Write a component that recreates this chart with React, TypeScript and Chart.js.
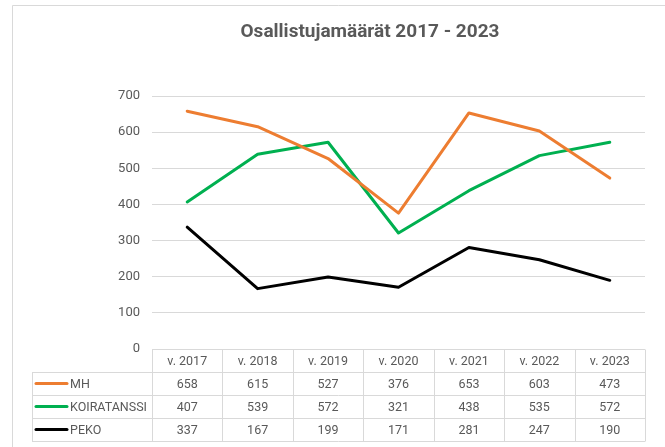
import React, { useEffect, useRef } from "react";
import { Chart, registerables } from "chart.js";

Chart.register(...registerables);

const categories = ["v. 2017", "v. 2018", "v. 2019", "v. 2020", "v. 2021", "v. 2022", "v. 2023"];
const mhValues = [658, 615, 527, 376, 653, 603, 473];
const koiratanssiValues = [407, 539, 572, 321, 438, 535, 572];
const pekoValues = [337, 167, 199, 171, 281, 247, 190];
const seriesNames = ["MH", "KOIRATANSSI", "PEKO"];
const seriesColors = ["#ED7D31", "#00B050", "#000000"];
const titleText = "Osallistujamäärät 2017 - 2023";

const FONT = "Roboto, 'Liberation Sans', sans-serif";
const TEXT_COLOR = "#595959";
const GRID_COLOR = "#D9D9D9";

const tablePlugin = {
  id: "excelTable",
  beforeDraw(chart: any) {
    const ctx = chart.ctx;
    ctx.save();
    ctx.fillStyle = "#FFFFFF";
    ctx.fillRect(0, 0, chart.width, chart.height);
    // frame
    ctx.strokeStyle = GRID_COLOR;
    ctx.lineWidth = 1;
    ctx.beginPath();
    ctx.moveTo(12.5, chart.height);
    ctx.lineTo(12.5, 5.5);
    ctx.lineTo(chart.width, 5.5);
    ctx.stroke();
    // title
    ctx.fillStyle = TEXT_COLOR;
    ctx.font = `bold 19px ${FONT}`;
    ctx.textAlign = "center";
    ctx.textBaseline = "middle";
    ctx.fillText(titleText, 370, 32);
    ctx.restore();
  },
  afterDraw(chart: any) {
    const ctx = chart.ctx;
    const x = chart.scales.x;
    const area = chart.chartArea;
    const n = categories.length;
    const colW = (area.right - area.left) / n;
    const top = area.bottom;
    const rowH = 23;
    const labelLeft = 32;
    const series = [mhValues, koiratanssiValues, pekoValues];
    ctx.save();
    ctx.strokeStyle = GRID_COLOR;
    ctx.lineWidth = 1;
    const px = (v: number) => Math.round(v) + 0.5;
    // horizontal lines
    ctx.beginPath();
    ctx.moveTo(area.left, px(top));
    ctx.lineTo(area.right, px(top));
    for (let r = 1; r <= series.length + 1; r++) {
      const y = px(top + r * rowH);
      ctx.moveTo(labelLeft, y);
      ctx.lineTo(area.right, y);
    }
    // vertical lines
    ctx.moveTo(px(labelLeft), px(top + rowH));
    ctx.lineTo(px(labelLeft), px(top + rowH * (series.length + 1)));
    for (let c = 0; c <= n; c++) {
      const xv = px(area.left + c * colW);
      ctx.moveTo(xv, px(top));
      ctx.lineTo(xv, px(top + rowH * (series.length + 1)));
    }
    ctx.stroke();

    ctx.fillStyle = TEXT_COLOR;
    ctx.font = `12.5px ${FONT}`;
    ctx.textAlign = "center";
    ctx.textBaseline = "middle";
    categories.forEach((c, i) => {
      ctx.fillText(c, x.getPixelForValue(i), top + rowH / 2 + 1);
    });
    series.forEach((vals, r) => {
      const cy = top + rowH * (r + 1) + rowH / 2 + 1;
      vals.forEach((v, i) => {
        ctx.fillText(String(v), x.getPixelForValue(i), cy);
      });
      // legend key
      ctx.strokeStyle = seriesColors[r];
      ctx.lineWidth = 3;
      ctx.lineCap = "round";
      ctx.beginPath();
      ctx.moveTo(36, cy - 1);
      ctx.lineTo(67, cy - 1);
      ctx.stroke();
      ctx.textAlign = "left";
      ctx.fillText(seriesNames[r], 70, cy);
      ctx.textAlign = "center";
    });
    ctx.restore();
  },
};

export default function App() {
  const ref = useRef<HTMLCanvasElement | null>(null);
  useEffect(() => {
    document.body.style.margin = "0";
    if (!ref.current) return;
    const chart = new Chart(ref.current, {
      type: "line",
      data: {
        labels: categories,
        datasets: [mhValues, koiratanssiValues, pekoValues].map((d, i) => ({
          label: seriesNames[i],
          data: d,
          borderColor: seriesColors[i],
          backgroundColor: seriesColors[i],
          borderWidth: 3,
          pointRadius: 0,
          tension: 0,
          borderCapStyle: "round" as const,
          borderJoinStyle: "round" as const,
        })),
      },
      options: {
        responsive: false,
        animation: false,
        devicePixelRatio: 1,
        layout: { padding: { top: 96, right: 20, bottom: 98, left: 0 } },
        plugins: {
          legend: { display: false },
          title: { display: false },
          tooltip: { enabled: false },
        },
        scales: {
          x: {
            display: false,
            offset: true,
          },
          y: {
            min: 0,
            max: 700,
            afterFit: (scale: any) => {
              scale.width = 152;
            },
            border: { display: false },
            grid: { color: GRID_COLOR, drawTicks: false, lineWidth: 1 },
            ticks: {
              stepSize: 100,
              padding: 12,
              color: TEXT_COLOR,
              font: { family: FONT, size: 13 },
            },
          },
        },
      },
      plugins: [tablePlugin],
    });
    return () => chart.destroy();
  }, []);
  return (
    <canvas ref={ref} width={665} height={447} style={{ display: "block", width: 665, height: 447 }} />
  );
}
